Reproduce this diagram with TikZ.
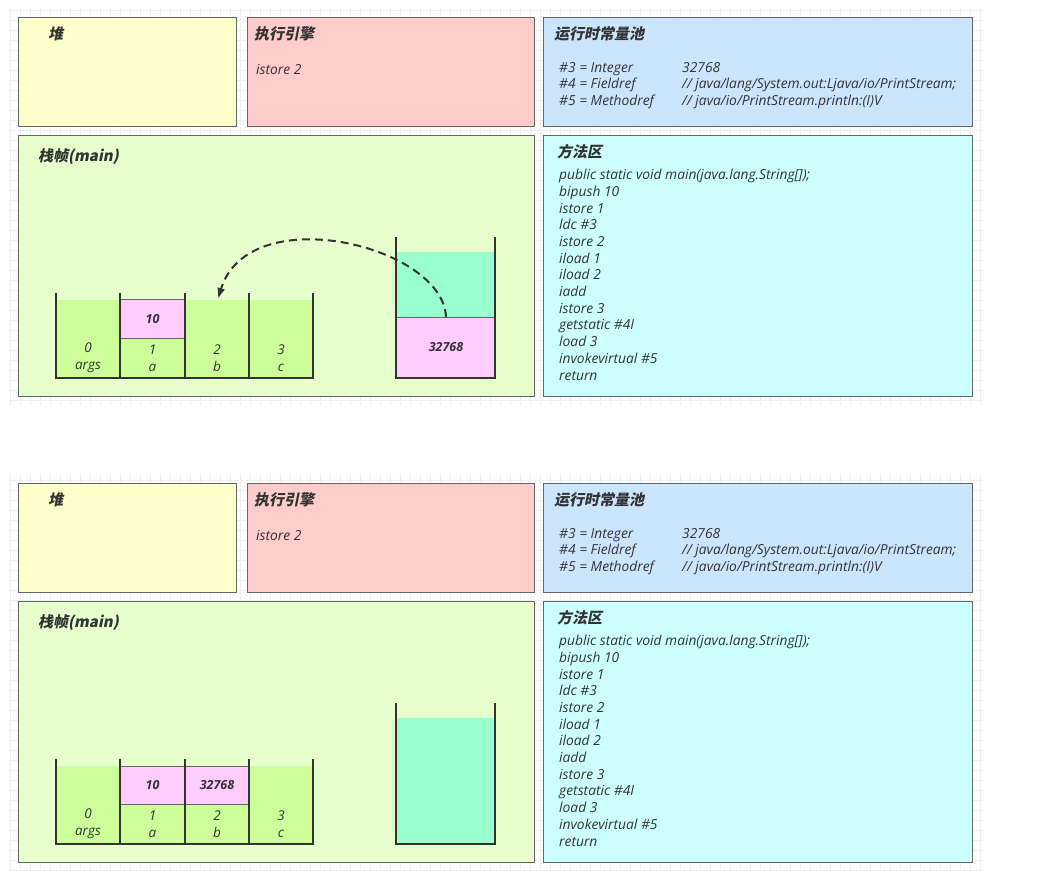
\documentclass[tikz,border=0pt]{standalone}
\usepackage{fontspec}
\setmainfont{Open Sans}
\newfontfamily\cjk{Noto Sans CJK SC}[FakeSlant=0.2]
\usepackage{tikz}
\usetikzlibrary{arrows.meta, positioning}

\definecolor{ink}{HTML}{333333}
\definecolor{boxline}{HTML}{666666}
\definecolor{heapc}{HTML}{FFFFCC}
\definecolor{enginec}{HTML}{FFCCCC}
\definecolor{poolc}{HTML}{CCE5FF}
\definecolor{framec}{HTML}{E6FFCC}
\definecolor{methodc}{HTML}{CCFFFF}
\definecolor{slotc}{HTML}{CCFF99}
\definecolor{valc}{HTML}{FFCCFF}
\definecolor{stackc}{HTML}{99FFCC}
\definecolor{gridc}{HTML}{EFEFEF}

\begin{document}
\begin{tikzpicture}[
        x=1pt, y=-1pt,
        area/.style={draw=boxline, line width=1pt, anchor=north west, inner sep=0pt},
        title/.style={anchor=west, inner sep=0pt, text=ink, font=\cjk\bfseries\fontsize{15}{18}\selectfont},
        code/.style={anchor=north west, align=left, inner sep=0pt, text=ink, font=\itshape\fontsize{13.8}{16.7}\selectfont},
        label/.style={align=center, inner sep=0pt, text=ink, font=\itshape\fontsize{13.5}{16.7}\selectfont},
        cell/.style={draw=boxline, line width=1pt, fill=valc, inner sep=0pt, text=ink, font=\bfseries\itshape\fontsize{12.5}{14}\selectfont},
        wall/.style={draw=ink, line width=2pt},
        flow/.style={-{Latex[length=11pt, width=8pt]}, draw=ink, line width=2pt, dash pattern=on 8pt off 5pt}
    ]
    \useasboundingbox[fill=white] (0,0) rectangle (1054,882);

    % the parts both snapshots share
    \foreach \dy/\tg in {0/a, 466/b} {
        \draw[gridc, line width=0.6pt] (9,8+\dy) grid[step=10pt] (983,405+\dy);

        \node[area, fill=heapc, minimum width=218pt, minimum height=109pt] (heap-\tg) at (18,17+\dy) {};
        \node[area, fill=enginec, minimum width=287pt, minimum height=109pt] (engine-\tg) at (247,17+\dy) {};
        \node[area, fill=poolc, minimum width=429pt, minimum height=109pt] (pool-\tg) at (543,17+\dy) {};
        \node[area, fill=framec, minimum width=516pt, minimum height=261pt] (frame-\tg) at (18,135+\dy) {};
        \node[area, fill=methodc, minimum width=429pt, minimum height=261pt] (method-\tg) at (543,135+\dy) {};

        \node[title] (heap-title-\tg) at (48,34+\dy) {堆};
        \node[title] (engine-title-\tg) at (254,34+\dy) {执行引擎};
        \node[title] (pool-title-\tg) at (554,34+\dy) {运行时常量池};
        \node[title] (frame-title-\tg) at (38,157+\dy) {栈帧(main)};
        \node[title] (method-title-\tg) at (557,152+\dy) {方法区};

        \node[code] (engine-txt-\tg) at (256,64+\dy) {istore 2};
        \node[code] (pool-txt-\tg) at (559,62+\dy) {\makebox[123pt][l]{\#3 = Integer}32768\\
            \makebox[123pt][l]{\#4 = Fieldref}// java/lang/System.out:Ljava/io/PrintStream;\\
            \makebox[123pt][l]{\#5 = Methodref}// java/io/PrintStream.println:(I)V};
        \node[code] (method-txt-\tg) at (559,169+\dy) {public static void main(java.lang.String[]);\\
            bipush 10\\ istore 1\\ ldc \#3\\ istore 2\\ iload 1\\ iload 2\\ iadd\\ istore 3\\
            getstatic \#4I\\ load 3\\ invokevirtual \#5\\ return};

        % local variable slots
        \fill[slotc] (56,300+\dy) rectangle (313,378+\dy);
        \foreach \x/\i/\v in {88/0/args, 152.5/1/a, 217/2/b, 281/3/c}
            \node[label] (slot-\i-\tg) at (\x,358+\dy) {\i\\\v};
    }

    % first snapshot
    \node[cell, minimum width=65pt, minimum height=38pt] (ten-a) at (152.5,319) {10};
    \fill[stackc] (396,252) rectangle (495,317);
    \node[cell, minimum width=99pt, minimum height=60pt, anchor=north west] (val-a) at (396,317) {32768};
    \coordinate (b-top) at (218,299);
    \draw[flow] (val-a.north) .. controls +(-3,-72) and +(30,-100) .. (b-top);

    % second snapshot
    \node[cell, minimum width=65pt, minimum height=38pt] (ten-b) at (152.5,785) {10};
    \node[cell, minimum width=64pt, minimum height=38pt] (val-b) at (217,785) {32768};
    \fill[stackc] (396,718) rectangle (495,844);

    % walls on top
    \foreach \dy in {0, 466} {
        \draw[wall] (56,293+\dy) -- (56,378+\dy) -- (313,378+\dy) -- (313,293+\dy);
        \foreach \x in {120,185,249}
            \draw[wall] (\x,293+\dy) -- (\x,378+\dy);
        \draw[wall] (396,237+\dy) -- (396,378+\dy) -- (495,378+\dy) -- (495,237+\dy);
    }
\end{tikzpicture}
\end{document}
